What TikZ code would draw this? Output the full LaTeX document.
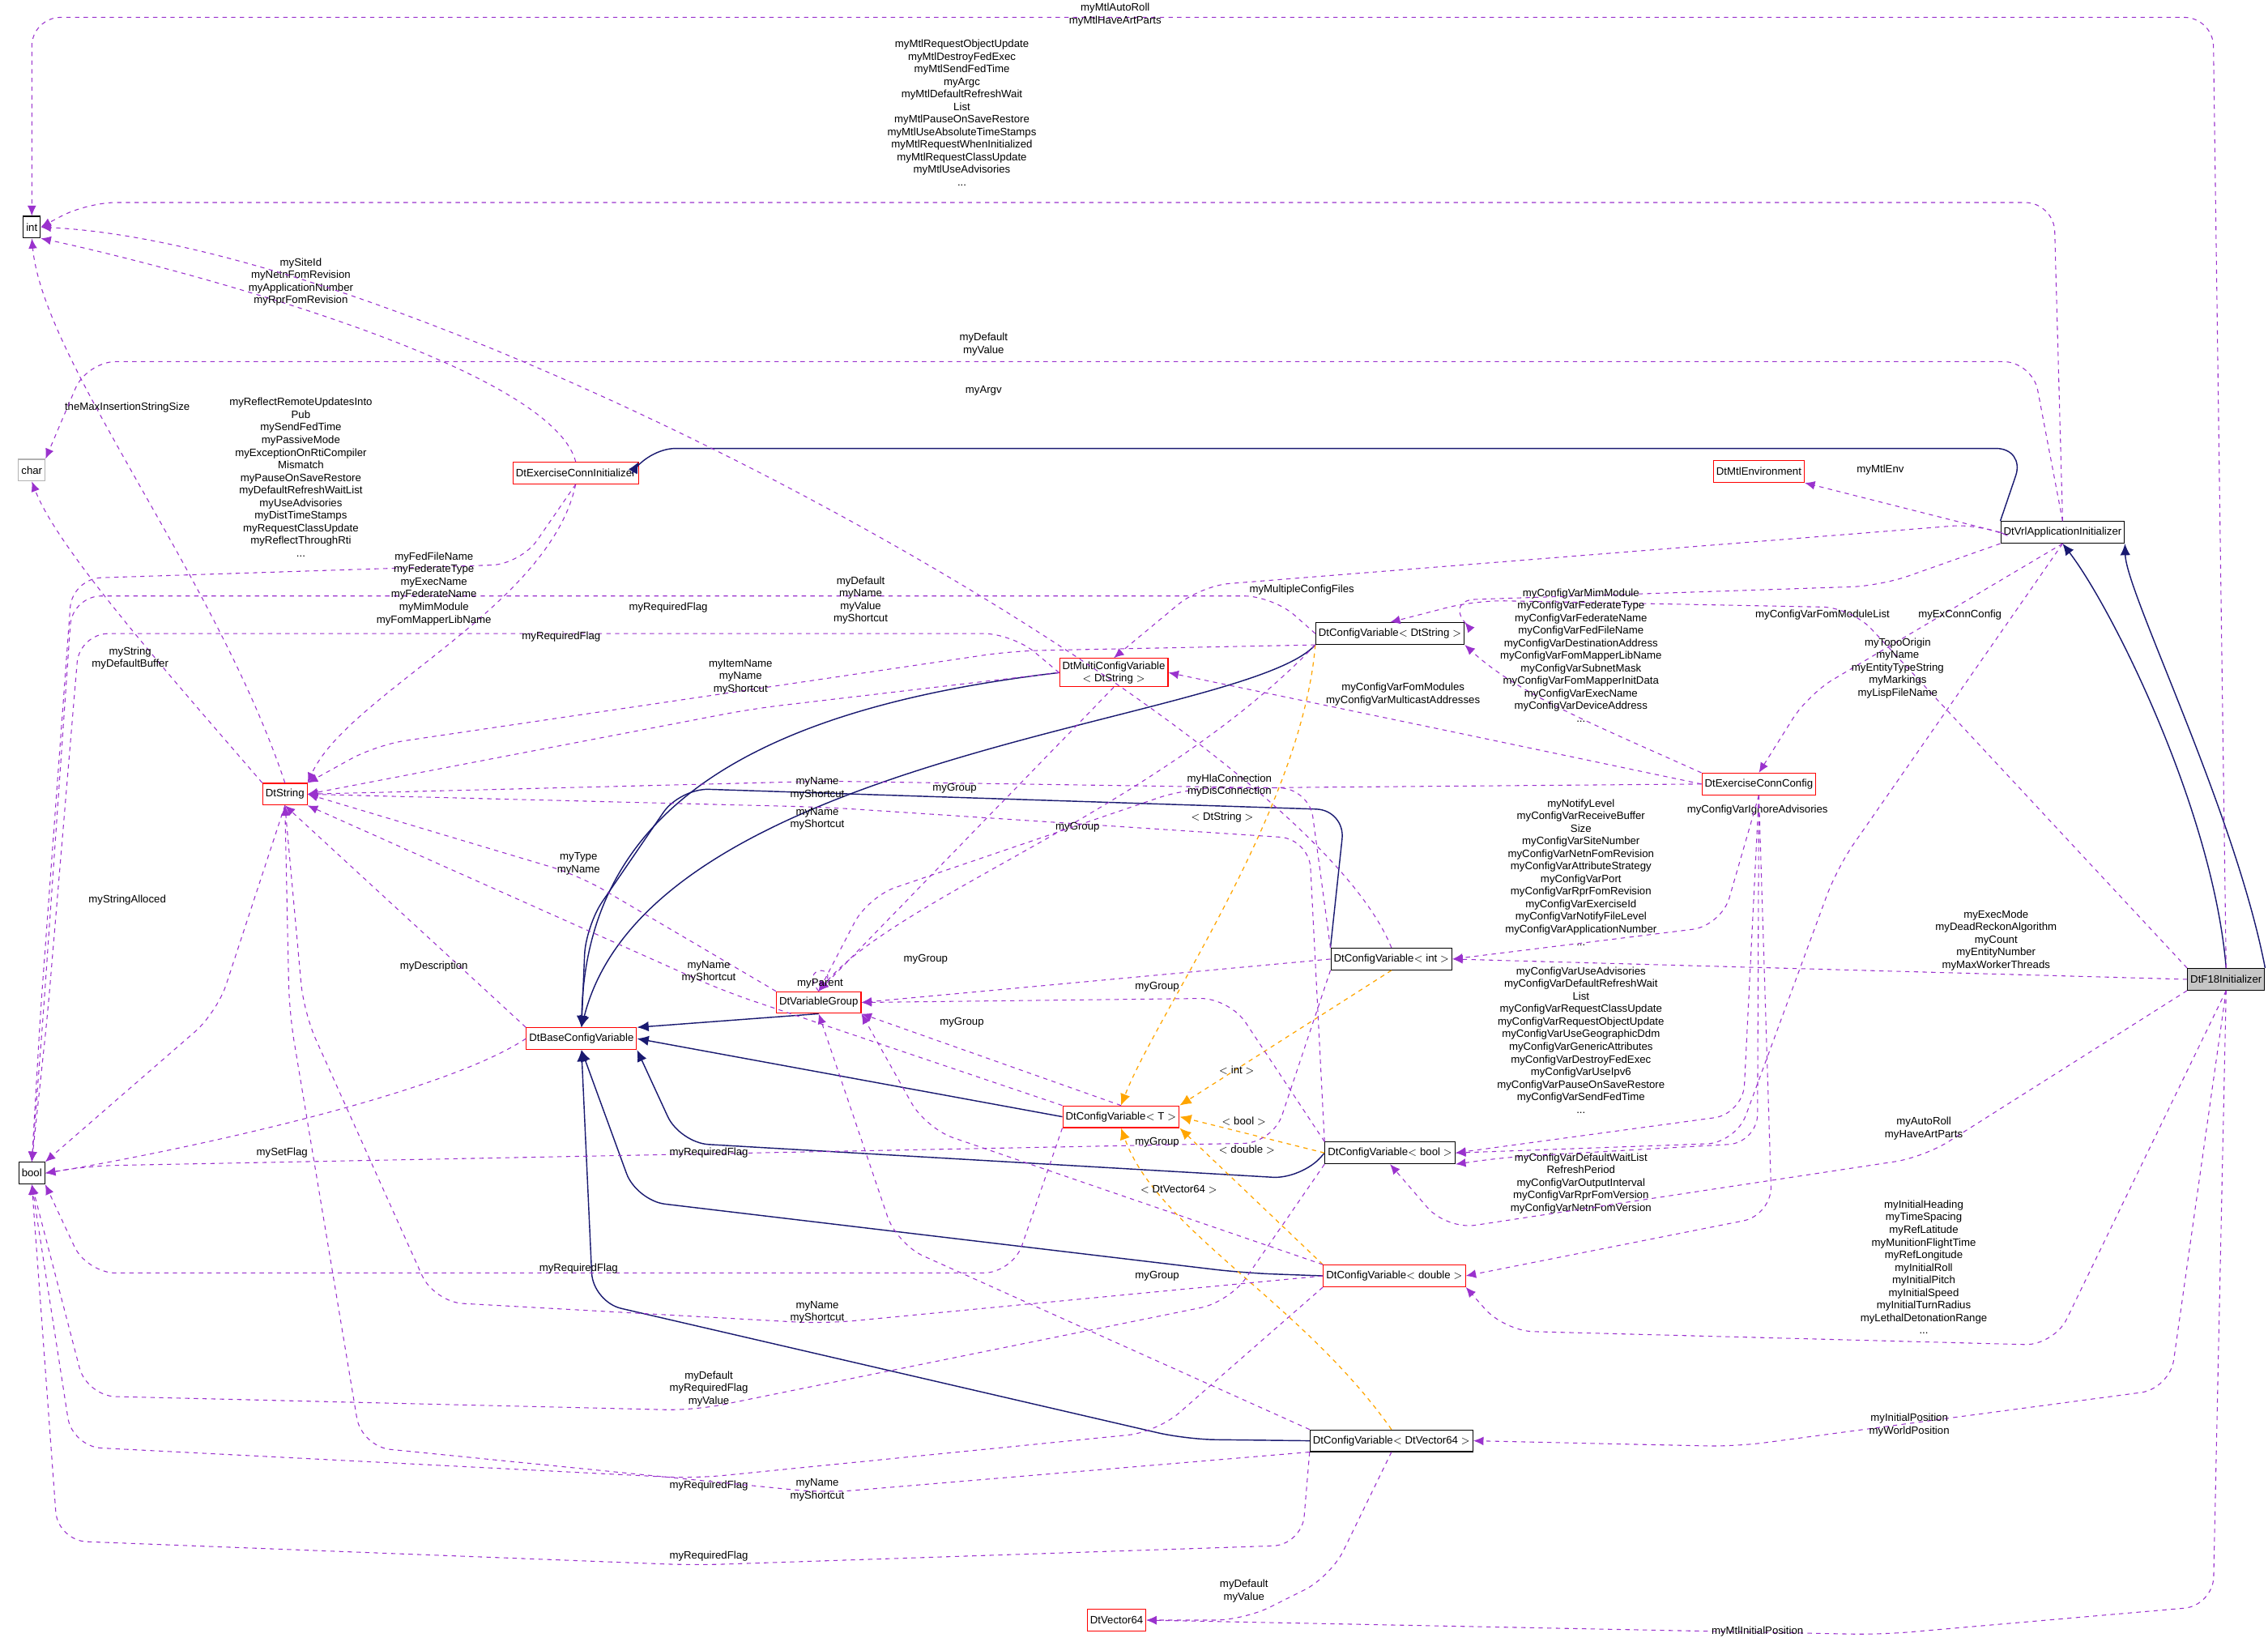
\documentclass[tikz,border=0pt]{standalone}
\usepackage{fontspec}
\setmainfont{Liberation Sans}
\usetikzlibrary{arrows.meta,positioning,calc}
\definecolor{dep}{HTML}{9A32CD}
\definecolor{navy}{HTML}{191970}
\definecolor{tmpl}{HTML}{FFA500}
\tikzset{
  every node/.style={font=\fontsize{7.4}{8.7}\selectfont},
  cls/.style={draw=black, fill=white, minimum height=15pt, inner sep=2pt, line width=0.6pt},
  clsR/.style={cls, draw=red},
  clsG/.style={cls, draw=gray!60},
  clsF/.style={cls, fill=gray!45},
  usage/.style={draw=dep, dashed, line width=0.6pt, -{Latex[length=7pt,width=6pt]}, rounded corners=20pt},
  inh/.style={draw=navy, line width=0.8pt, -{Latex[length=8pt,width=7pt]}, rounded corners=20pt},
  inst/.style={draw=tmpl, dashed, line width=0.7pt, -{Latex[length=8pt,width=7pt]}, rounded corners=20pt},
  lbl/.style={align=center, inner sep=0pt}
}
\begin{document}
\begin{tikzpicture}[x=1pt,y=-1pt]
  \useasboundingbox (0,0) rectangle (1568,1135);
  % classes
  \node[cls] (int) at (22,157) {int};
  \node[clsG] (char) at (22,325) {char};
  \node[cls] (bool) at (22,811) {bool};
  \node[clsR] (dtstring) at (197,549) {DtString};
  \node[clsR] (exinit) at (398,327) {DtExerciseConnInitializer};
  \node[clsR] (mtlenv) at (1216,326) {DtMtlEnvironment};
  \node[cls] (vrl) at (1426,368) {DtVrlApplicationInitializer};
  \node[cls] (cvstr) at (961,438) {DtConfigVariable$<$ DtString $>$};
  \node[clsR, align=center] (multi) at (770,465) {DtMultiConfigVariable\\$<$ DtString $>$};
  \node[clsR] (exconn) at (1216,542) {DtExerciseConnConfig};
  \node[cls] (cvint) at (962,663) {DtConfigVariable$<$ int $>$};
  \node[clsR] (vgroup) at (566,693) {DtVariableGroup};
  \node[clsR] (base) at (402,718) {DtBaseConfigVariable};
  \node[clsR] (cvt) at (775,772) {DtConfigVariable$<$ T $>$};
  \node[cls] (cvbool) at (961,797) {DtConfigVariable$<$ bool $>$};
  \node[clsF, anchor=east] (f18) at (1566,677) {DtF18Initializer};
  \node[clsR] (cvdbl) at (964,882) {DtConfigVariable$<$ double $>$};
  \node[cls] (cvvec) at (962,996) {DtConfigVariable$<$ DtVector64 $>$};
  \node[clsR] (vec) at (772,1120) {DtVector64};

  % inheritance
  \draw[inh] (f18.north) .. controls (1530,560) and (1460,420) .. (vrl.south);
  \draw[inh] (f18.north east) .. controls (1545,560) and (1470,410) .. (vrl.south east);
  \draw[inh] (vrl.north west) -- (1400,310) -- (447,310) -- (exinit.north east);
  \draw[inh] (cvstr.south west) .. controls (860,500) and (450,520) .. (base.north);
  \draw[inh] (multi.west) .. controls (520,490) and (405,560) .. (base.north);
  \draw[inh] (cvint.north west) -- (930,560) -- (470,545) -- (405,640) -- (base.north);
  \draw[inh] (vgroup.south) -- (base.north east);
  \draw[inh] (cvt.west) -- (base.east);
  \draw[inh] (cvbool.west) -- (900,815) -- (470,790) -- (base.south east);
  \draw[inh] (cvdbl.west) -- (860,880) -- (440,830) -- (base.south);
  \draw[inh] (cvvec.west) -- (820,995) -- (410,900) -- (base.south);

  % template instances
  \draw[inst] (cvstr.south west) .. controls (900,560) and (800,700) .. (cvt.north);
  \draw[inst] (cvint.south) -- (cvt.north east);
  \draw[inst] (cvbool.west) -- (cvt.east);
  \draw[inst] (cvdbl.north west) -- (cvt.south east);
  \draw[inst] (cvvec.north) .. controls (900,900) and (800,850) .. (cvt.south);
  \node[lbl] (l_ts) at (845,565) {$<$ DtString $>$};
  \node[lbl] (l_ti) at (855,740) {$<$ int $>$};
  \node[lbl] (l_tb) at (860,775) {$<$ bool $>$};
  \node[lbl] (l_td) at (862,795) {$<$ double $>$};
  \node[lbl] (l_tv) at (815,822) {$<$ DtVector64 $>$};

  % usage towards int and char
  \draw[usage] (f18.north) -- (1530,12) -- (22,12) -- (int.north);
  \node[lbl] (l1) at (771,10) {myMtlAutoRoll\\myMtlHaveArtParts};
  \draw[usage] (vrl.north) -- (1420,140) -- (60,140) -- (int.east);
  \node[lbl] (l2) at (665,78) {myMtlRequestObjectUpdate\\myMtlDestroyFedExec\\myMtlSendFedTime\\myArgc\\myMtlDefaultRefreshWait\\List\\myMtlPauseOnSaveRestore\\myMtlUseAbsoluteTimeStamps\\myMtlRequestWhenInitialized\\myMtlRequestClassUpdate\\myMtlUseAdvisories\\...};
  \draw[usage] (exinit.north) .. controls (380,250) and (100,180) .. (int.south east);
  \node[lbl] (l3) at (208,195) {mySiteId\\myNetnFomRevision\\myApplicationNumber\\myRprFomRevision};
  \draw[usage] (dtstring.north) .. controls (150,400) and (30,250) .. (int.south);
  \node[lbl] (l4) at (88,282) {theMaxInsertionStringSize};
  \draw[usage] (cvint.north) .. controls (900,500) and (300,170) .. (int.east);
  \node[lbl] (l5) at (680,238) {myDefault\\myValue};
  \draw[usage] (vrl.north) -- (1405,250) -- (60,250) -- (char.north east);
  \node[lbl] (l6) at (680,270) {myArgv};
  \draw[usage] (dtstring.north west) .. controls (120,470) and (40,380) .. (char.south);
  \node[lbl] (l7) at (90,455) {myString\\myDefaultBuffer};

  % usage towards bool
  \draw[usage] (exinit.south) -- (360,390) -- (50,400) -- (28,700) -- (bool.north);
  \node[lbl] (l8) at (208,330) {myReflectRemoteUpdatesInto\\Pub\\mySendFedTime\\myPassiveMode\\myExceptionOnRtiCompiler\\Mismatch\\myPauseOnSaveRestore\\myDefaultRefreshWaitList\\myUseAdvisories\\myDistTimeStamps\\myRequestClassUpdate\\myReflectThroughRti\\...};
  \draw[usage] (cvstr.west) -- (880,412) -- (50,412) -- (30,700) -- (bool.north);
  \node[lbl] (l9) at (462,420) {myRequiredFlag};
  \draw[usage] (multi.west) -- (700,438) -- (55,438) -- (33,700) -- (bool.north);
  \node[lbl] (l10) at (388,440) {myRequiredFlag};
  \draw[usage] (dtstring.south) -- (150,700) -- (bool.north east);
  \node[lbl] (l11) at (88,622) {myStringAlloced};
  \draw[usage] (base.west) .. controls (300,760) and (100,800) .. (bool.east);
  \node[lbl] (l12) at (195,797) {mySetFlag};
  \draw[usage] (cvint.south west) -- (880,790) -- (60,806) -- (bool.east);
  \node[lbl] (l13) at (490,797) {myRequiredFlag};
  \draw[usage] (cvt.south west) -- (700,880) -- (60,880) -- (bool.south east);
  \node[lbl] (l14) at (400,877) {myRequiredFlag};
  \draw[usage] (cvbool.south west) -- (850,900) -- (480,975) -- (60,965) -- (bool.south);
  \node[lbl] (l15) at (490,960) {myDefault\\myRequiredFlag\\myValue};
  \draw[usage] (cvdbl.south west) -- (800,990) -- (480,1022) -- (50,1000) -- (bool.south);
  \node[lbl] (l16) at (490,1027) {myRequiredFlag};
  \draw[usage] (cvvec.south west) -- (900,1068) -- (480,1082) -- (40,1065) -- (bool.south);
  \node[lbl] (l17) at (490,1076) {myRequiredFlag};

  % usage towards DtString
  \draw[usage] (exinit.south) .. controls (380,420) and (240,480) .. (dtstring.north east);
  \node[lbl] (l18) at (300,407) {myFedFileName\\myFederateType\\myExecName\\myFederateName\\myMimModule\\myFomMapperLibName};
  \draw[usage] (cvstr.south west) -- (700,450) -- (260,515) -- (dtstring.north east);
  \node[lbl] (l19) at (595,415) {myDefault\\myName\\myValue\\myShortcut};
  \draw[usage] (multi.west) -- (520,490) -- (dtstring.east);
  \node[lbl] (l20) at (512,468) {myItemName\\myName\\myShortcut};
  \draw[usage] (cvint.north west) -- (905,545) -- (570,540) -- (dtstring.east);
  \node[lbl] (l21) at (565,545) {myName\\myShortcut};
  \draw[usage] (cvbool.north west) -- (905,580) -- (570,558) -- (dtstring.east);
  \node[lbl] (l22) at (565,566) {myName\\myShortcut};
  \draw[usage] (vgroup.north west) -- (400,605) -- (dtstring.east);
  \node[lbl] (l23) at (400,597) {myType\\myName};
  \draw[usage] (base.north west) -- (dtstring.south);
  \node[lbl] (l24) at (300,668) {myDescription};
  \draw[usage] (cvt.north west) -- (500,685) -- (dtstring.south east);
  \node[lbl] (l25) at (490,672) {myName\\myShortcut};
  \draw[usage] (cvdbl.west) -- (570,915) -- (300,900) -- (210,700) -- (dtstring.south);
  \node[lbl] (l26) at (565,907) {myName\\myShortcut};
  \draw[usage] (cvvec.south west) -- (570,1032) -- (250,1000) -- (200,700) -- (dtstring.south);
  \node[lbl] (l27) at (565,1030) {myName\\myShortcut};

  % usage towards DtVariableGroup
  \draw[usage] (multi.south) -- (vgroup.north);
  \node[lbl] (l28) at (660,545) {myGroup};
  \draw[usage] (cvstr.south west) .. controls (800,560) and (620,620) .. (vgroup.north);
  \node[lbl] (l29) at (745,572) {myGroup};
  \draw[usage] (exconn.west) -- (820,545) -- (600,620) -- (vgroup.north);
  \node[lbl] (l30) at (850,543) {myHlaConnection\\myDisConnection};
  \draw[usage] (cvint.west) -- (vgroup.east);
  \node[lbl] (l31) at (640,663) {myGroup};
  \draw[usage] (cvbool.north west) -- (850,690) -- (vgroup.east);
  \node[lbl] (l32) at (800,682) {myGroup};
  \draw[usage] (cvt.north) -- (vgroup.south east);
  \node[lbl] (l33) at (665,707) {myGroup};
  \draw[usage] (cvdbl.north west) -- (640,780) -- (vgroup.south east);
  \node[lbl] (l34) at (800,790) {myGroup};
  \draw[usage] (cvvec.north west) -- (620,860) -- (vgroup.south);
  \node[lbl] (l35) at (800,882) {myGroup};
  \draw[usage, rounded corners=0pt] (vgroup.north) .. controls ($(vgroup.north)+(-14,-18)$) and ($(vgroup.north)+(14,-18)$) .. (vgroup.north);
  \node[lbl] (l36) at (567,680) {myParent};

  % usage from the initializers and the exercise config
  \draw[usage] (vrl.west) -- (mtlenv.south east);
  \node[lbl] (l37) at (1300,325) {myMtlEnv};
  \draw[usage] (vrl.west) -- (1370,362) -- (830,405) -- (multi.north);
  \node[lbl] (l38) at (900,408) {myMultipleConfigFiles};
  \draw[usage] (vrl.south west) -- (1300,405) -- (1000,415) -- (cvstr.north east);
  \node[lbl] (l39) at (1260,425) {myConfigVarFomModuleList};
  \draw[usage] (vrl.south) -- (1250,480) -- (exconn.north);
  \node[lbl] (l40) at (1355,425) {myExConnConfig};
  \draw[usage] (vrl.south) -- (1270,600) -- (1200,790) -- (cvbool.east);
  \node[lbl] (l41) at (1215,560) {myConfigVarIgnoreAdvisories};
  \draw[usage] (f18.north west) -- (1280,420) -- (1020,415) -- (cvstr.north);
  \node[lbl] (l42) at (1312,462) {myTopoOrigin\\myName\\myEntityTypeString\\myMarkings\\myLispFileName};
  \draw[usage] (exconn.north west) .. controls (1100,500) and (1050,480) .. (cvstr.south east);
  \node[lbl] (l43) at (1093,453) {myConfigVarMimModule\\myConfigVarFederateType\\myConfigVarFederateName\\myConfigVarFedFileName\\myConfigVarDestinationAddress\\myConfigVarFomMapperLibName\\myConfigVarSubnetMask\\myConfigVarFomMapperInitData\\myConfigVarExecName\\myConfigVarDeviceAddress\\...};
  \draw[usage] (exconn.west) -- (1000,505) -- (multi.east);
  \node[lbl] (l44) at (970,480) {myConfigVarFomModules\\myConfigVarMulticastAddresses};
  \draw[usage] (exconn.south) -- (1190,640) -- (cvint.east);
  \node[lbl] (l45) at (1093,603) {myNotifyLevel\\myConfigVarReceiveBuffer\\Size\\myConfigVarSiteNumber\\myConfigVarNetnFomRevision\\myConfigVarAttributeStrategy\\myConfigVarPort\\myConfigVarRprFomRevision\\myConfigVarExerciseId\\myConfigVarNotifyFileLevel\\myConfigVarApplicationNumber\\...};
  \draw[usage] (exconn.south) -- (1205,770) -- (cvbool.east);
  \node[lbl] (l46) at (1093,719) {myConfigVarUseAdvisories\\myConfigVarDefaultRefreshWait\\List\\myConfigVarRequestClassUpdate\\myConfigVarRequestObjectUpdate\\myConfigVarUseGeographicDdm\\myConfigVarGenericAttributes\\myConfigVarDestroyFedExec\\myConfigVarUseIpv6\\myConfigVarPauseOnSaveRestore\\myConfigVarSendFedTime\\...};
  \draw[usage] (exconn.south) -- (1215,790) -- (1040,800) -- (cvbool.south east);
  \draw[usage] (exconn.south) -- (1225,840) -- (cvdbl.east);
  \node[lbl] (l47) at (1093,818) {myConfigVarDefaultWaitList\\RefreshPeriod\\myConfigVarOutputInterval\\myConfigVarRprFomVersion\\myConfigVarNetnFomVersion};
  \draw[usage] (f18.west) -- (cvint.east);
  \node[lbl] (l48) at (1380,650) {myExecMode\\myDeadReckonAlgorithm\\myCount\\myEntityNumber\\myMaxWorkerThreads};
  \draw[usage] (f18.south west) -- (1330,800) -- (1000,850) -- (cvbool.south);
  \node[lbl] (l49) at (1330,780) {myAutoRoll\\myHaveArtParts};
  \draw[usage] (f18.south) -- (1420,930) -- (1040,920) -- (cvdbl.south east);
  \node[lbl] (l50) at (1330,876) {myInitialHeading\\myTimeSpacing\\myRefLatitude\\myMunitionFlightTime\\myRefLongitude\\myInitialRoll\\myInitialPitch\\myInitialSpeed\\myInitialTurnRadius\\myLethalDetonationRange\\...};
  \draw[usage] (f18.south) -- (1500,960) -- (1200,1000) -- (cvvec.east);
  \node[lbl] (l51) at (1320,985) {myInitialPosition\\myWorldPosition};
  \draw[usage] (f18.south) -- (1530,1110) -- (1300,1130) -- (vec.east);
  \node[lbl] (l52) at (1215,1128) {myMtlInitialPosition};
  \draw[usage] (cvvec.south) -- (920,1090) -- (860,1120) -- (vec.east);
  \node[lbl] (l53) at (860,1100) {myDefault\\myValue};
\end{tikzpicture}
\end{document}
